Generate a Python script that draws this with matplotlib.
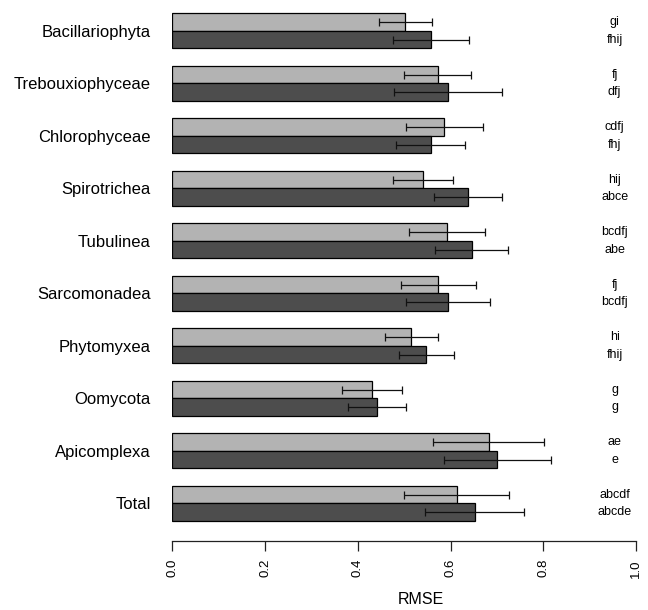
import matplotlib
matplotlib.use("Agg")
import matplotlib.pyplot as plt
import numpy as np

plt.rcParams['font.family'] = ['Liberation Sans', 'DejaVu Sans']

# Taxa, listed top to bottom
taxa = ["Bacillariophyta", "Trebouxiophyceae", "Chlorophyceae", "Spirotrichea",
        "Tubulinea", "Sarcomonadea", "Phytomyxea", "Oomycota", "Apicomplexa", "Total"]

# Mean RMSE and error half-widths for the two models
rmse_light = [0.502, 0.572, 0.587, 0.541, 0.592, 0.574, 0.515, 0.431, 0.682, 0.613]
err_light = [0.057, 0.073, 0.084, 0.065, 0.082, 0.081, 0.057, 0.065, 0.120, 0.114]
rmse_dark = [0.557, 0.595, 0.557, 0.638, 0.646, 0.595, 0.548, 0.441, 0.701, 0.652]
err_dark = [0.082, 0.117, 0.075, 0.074, 0.079, 0.090, 0.060, 0.062, 0.115, 0.106]

# Significance-group letters
letters_light = ["gi", "fj", "cdfj", "hij", "bcdfj", "fj", "hi", "g", "ae", "abcdf"]
letters_dark = ["fhij", "dfj", "fhj", "abce", "abe", "bcdfj", "fhij", "g", "e", "abcde"]

xticks = [0.0, 0.2, 0.4, 0.6, 0.8, 1.0]

W, H = 648, 610
fig = plt.figure(figsize=(W / 100, H / 100), dpi=100)

ylo, yhi = -0.126, 30.5
x0, x1 = 172.3, 636.0
ybot, ytop = 540.7, 4.55
ax = fig.add_axes([x0 / W, (H - ybot) / H, (x1 - x0) / W, (ybot - ytop) / H])
ax.set_xlim(0, 1)
ax.set_ylim(ylo, yhi)

n = len(taxa)
k = np.arange(n)[::-1]  # group index from the bottom
y_light = 3 * k + 2.5
y_dark = 3 * k + 1.5
y_mid = 3 * k + 2.0

light_col = "#b3b3b3"
dark_col = "#4d4d4d"

ax.barh(y_light, rmse_light, height=1.0, color=light_col, edgecolor="black", linewidth=0.9)
ax.barh(y_dark, rmse_dark, height=1.0, color=dark_col, edgecolor="black", linewidth=0.9)

ax.errorbar(rmse_light, y_light, xerr=err_light, fmt="none", ecolor="#111111",
            elinewidth=0.9, capsize=3.2, capthick=0.9)
ax.errorbar(rmse_dark, y_dark, xerr=err_dark, fmt="none", ecolor="#111111",
            elinewidth=0.9, capsize=3.2, capthick=0.9)

for yl, yd, ll, ld in zip(y_light, y_dark, letters_light, letters_dark):
    ax.text(0.954, yl, ll, ha="center", va="center", fontsize=9)
    ax.text(0.954, yd, ld, ha="center", va="center", fontsize=9)

ax.set_yticks(y_mid)
ax.set_yticklabels(taxa, fontsize=12)
ax.tick_params(axis="y", length=0, pad=15.5)

ax.set_xticks(xticks)
ax.set_xticklabels([f"{t:.1f}" for t in xticks], rotation=90, fontsize=9.5)
ax.tick_params(axis="x", length=7.2, width=0.9, pad=6, color="#222222")

for s in ["top", "right", "left"]:
    ax.spines[s].set_visible(False)
ax.spines["bottom"].set_bounds(0, 1)
ax.spines["bottom"].set_linewidth(0.9)
ax.spines["bottom"].set_color("#222222")

fig.text(420.5 / W, (H - 599) / H, "RMSE", ha="center", va="center", fontsize=11.5)

fig.savefig("out.png", dpi=100)
